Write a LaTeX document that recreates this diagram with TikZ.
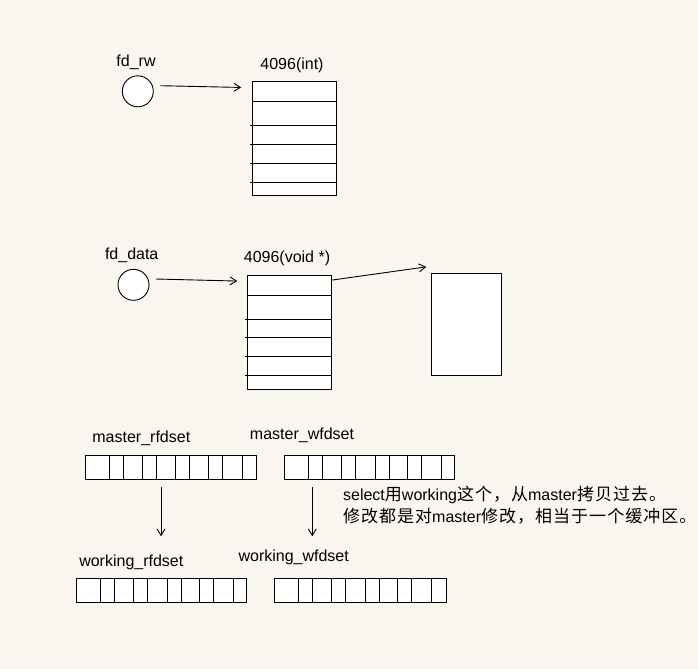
\documentclass[tikz,border=0pt]{standalone}
\usepackage{fontspec}
\setmainfont{Liberation Sans}
\newfontfamily\cjkfont[LetterSpace=6]{Noto Sans CJK SC}
\newcommand{\cjk}{\cjkfont\fontsize{17}{19}\selectfont}
\usetikzlibrary{arrows.meta}
\definecolor{paper}{RGB}{249,246,240}

\begin{document}
\begin{tikzpicture}[x=1pt,y=-1pt,line width=0.9pt,>={Straight Barb[length=6.5pt,width=8pt]},
 every node/.style={font=\fontsize{16}{19}\selectfont},
 lbl/.style={anchor=base,inner sep=0pt},
 fd/.style={circle,draw,fill=white,minimum size=31pt,inner sep=0pt},
 tab/.style={draw,fill=white,minimum width=84.4pt,minimum height=114.4pt,inner sep=0pt},
 buf/.style={draw,fill=white,minimum width=70.7pt,minimum height=102pt,inner sep=0pt},
 bits/.style={draw,fill=white,minimum height=24pt,inner sep=0pt}]
\newcommand{\TabRows}[3]{\draw (#1.west |- 0,#2) -- (#1.east |- 0,#2);
 \foreach \y in {#3} \draw ([xshift=-1.5pt]#1.west |- 0,\y) -- (#1.east |- 0,\y);}
\newcommand{\FDset}[4]{\node[bits,minimum width=#3] (#1) at (#2) {};
 \foreach \x in {#4} \draw (#1.north -| \x,0) -- (#1.south -| \x,0);}
\path[fill=paper,use as bounding box] (0,0) rectangle (698,670);
% fd_rw -> int table
\node[lbl] (rwlbl) at (136,66) {fd\_rw};
\node[fd] (rw) at (137.8,91.3) {};
\node[lbl] (rwtype) at (292,69.3) {4096(int)};
\node[tab] (tab1) at (294.5,138.7) {};
\TabRows{tab1}{101.3}{125.7,144.3,163.3,182.7}
\draw[->] ([xshift=6.7pt,yshift=5.6pt]rw.east) -- ([xshift=-10.6pt,yshift=-6.4pt]tab1.north west);
% fd_data -> void* table -> buffer
\node[lbl] (datalbl) at (131.7,259.3) {fd\_data};
\node[fd] (data) at (133.5,284.8) {};
\node[lbl] (datatype) at (287,262.7) {4096(void *)};
\node[tab] (tab2) at (289.5,332.3) {};
\TabRows{tab2}{295.3}{319.3,337.3,356.3,375.3}
\node[buf] (box) at (466.4,324.3) {};
\draw[->] ([xshift=6.3pt,yshift=5.8pt]data.east) -- ([xshift=-9.6pt,yshift=-6.4pt]tab2.north west);
\draw[->] ([yshift=-5.4pt]tab2.north east) -- ([xshift=-4.3pt,yshift=6pt]box.north west);
% fd sets
\node[lbl] (mrlbl) at (141.3,442.3) {master\_rfdset};
\node[lbl] (mwlbl) at (302,439) {master\_wfdset};
\FDset{mr}{170.5,467.3}{171pt}{109.3,123.3,142.7,156.7,175.3,189.3,208.7,222.7,242}
\FDset{mw}{369.3,467.3}{170pt}{308.3,322.3,341.7,355.7,375,389,407.7,421.7,441}
\node[lbl] (wrlbl) at (131.3,566) {working\_rfdset};
\node[lbl] (wwlbl) at (293.7,561.7) {working\_wfdset};
\FDset{wr}{161.3,590.7}{169.3pt}{100.7,114.3,133.7,147.7,167,181,199.7,213.7,233}
\FDset{ww}{360.2,590.7}{171.7pt}{298.3,312.3,331.7,345.7,365,379,397.7,411.7,431.7}
\draw[->,shorten <=7.4pt,shorten >=42pt] (mr.south -| 161,0) -- (wr.north -| 161,0);
\draw[->,shorten <=7.4pt,shorten >=42pt] (mw.south -| 312.3,0) -- (ww.north -| 312.3,0);
\node[lbl,anchor=base west] (note1) at (342.7,500.7) {select{\cjk 用}working{\cjk 这个，从}master{\cjk 拷贝过去。}};
\node[lbl,anchor=base west] (note2) at (342.7,522.7) {{\cjk 修改都是对}master{\cjk 修改，相当于一个缓冲区。}};
\end{tikzpicture}
\end{document}
